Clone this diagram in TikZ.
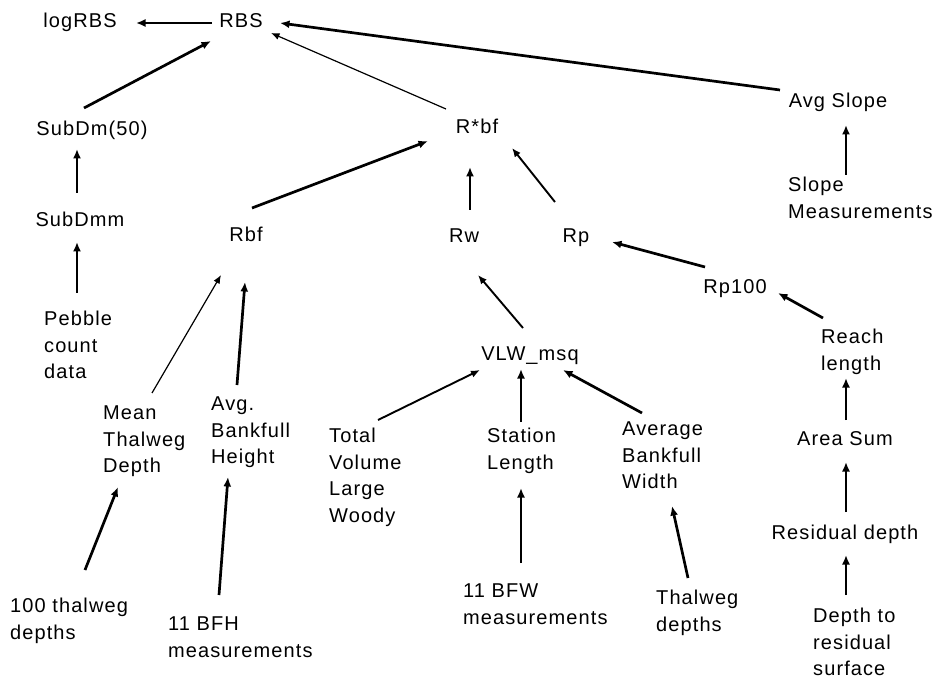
\documentclass[tikz,border=0pt]{standalone}
\usepackage{fontspec}
\setmainfont{Liberation Sans}[LetterSpace=5.5]
\usetikzlibrary{arrows.meta}
\begin{document}
\begin{tikzpicture}[x=1pt,y=-1pt,
  lbl/.style={inner sep=0pt, font=\fontsize{20}{26.5}\selectfont},
  one/.style={lbl, anchor=base},
  multi/.style={lbl, anchor=north west, align=left},
  thk/.style={line width=2.7pt, -{Latex[length=9.5pt,width=8pt]}},
  med/.style={line width=1.9pt, -{Latex[length=9pt,width=7.5pt]}},
  thn/.style={line width=1.2pt, -{Latex[length=8.5pt,width=7pt]}}]
\useasboundingbox (0,0) rectangle (938,679);
% single-line nodes
\node[one] (logrbs) at (80,28) {logRBS};
\node[one] (rbs) at (241,28) {RBS};
\node[one] (sub50) at (92,136) {SubDm(50)};
\node[one] (subdmm) at (80,227) {SubDmm};
\node[one] (rbf) at (246,242) {Rbf};
\node[one] (rstar) at (477,134) {R*bf};
\node[one] (rw) at (464,243) {Rw};
\node[one] (rp) at (576,243) {Rp};
\node[one] (avgslope) at (838,108) {Avg Slope};
\node[one] (rp100) at (735,294) {Rp100};
\node[one] (vlw) at (530,360) {VLW\_msq};
\node[one] (areasum) at (845,445) {Area Sum};
\node[one] (resid) at (845,539) {Residual depth};
% multi-line nodes
\node[multi] (slopem) at (788,177) {Slope\\Measurements};
\node[multi] (pebble) at (44,311) {Pebble\\count\\data};
\node[multi] (mean) at (103,406) {Mean\\Thalweg\\Depth};
\node[multi] (avgbfh) at (211,397) {Avg.\\Bankfull\\Height};
\node[multi] (tvlw) at (329,428) {Total\\Volume\\Large\\Woody};
\node[multi] (station) at (487,428) {Station\\Length};
\node[multi] (avgbfw) at (622,422) {Average\\Bankfull\\Width};
\node[multi] (reach) at (821,329) {Reach\\length};
\node[multi] (thal100) at (10,598) {100 thalweg\\depths};
\node[multi] (bfh11) at (168,617) {11 BFH\\measurements};
\node[multi] (bfw11) at (463,584) {11 BFW\\measurements};
\node[multi] (thaldepths) at (656,590) {Thalweg\\depths};
\node[multi] (depthres) at (813,608) {Depth to\\residual\\surface};
% connectors
\draw[thk] ([shift={(-29,-5)}]rbs.base) -- ([shift={(56,-5)}]logrbs.base);
\draw[thk] ([shift={(-8,-28)}]sub50.base) -- ([shift={(-30,13)}]rbs.base);
\draw[thn] ([shift={(-31,-25)}]rstar.base) -- ([shift={(30,5)}]rbs.base);
\draw[thk] ([shift={(-58,-18)}]avgslope.base) -- ([shift={(39,-5)}]rbs.base);
\draw[thk] ([shift={(58,-2)}]slopem.north west) -- ([shift={(8,17)}]avgslope.base);
\draw[thk] ([shift={(-3,-34)}]subdmm.base) -- ([shift={(-15,13)}]sub50.base);
\draw[thk] ([shift={(33,-18)}]pebble.north west) -- ([shift={(-3,15)}]subdmm.base);
\draw[thk] ([shift={(6,-34)}]rbf.base) -- ([shift={(-49,7)}]rstar.base);
\draw[thk] ([shift={(6,-33)}]rw.base) -- ([shift={(-7,33)}]rstar.base);
\draw[med] ([shift={(-21,-41)}]rp.base) -- ([shift={(35,14)}]rstar.base);
\draw[thk] ([shift={(-30,-27)}]rp100.base) -- ([shift={(36,-1)}]rp.base);
\draw[thk] ([shift={(2,-11)}]reach.north west) -- ([shift={(43,-1)}]rp100.base);
\draw[med] ([shift={(-7,-32)}]vlw.base) -- ([shift={(14,32)}]rw.base);
\draw[thk] ([shift={(1,-25)}]areasum.base) -- ([shift={(25,49)}]reach.north west);
\draw[thk] ([shift={(34,-6)}]station.north west) -- ([shift={(-9,9)}]vlw.base);
\draw[thk] ([shift={(20,-9)}]avgbfw.north west) -- ([shift={(33,10)}]vlw.base);
\draw[med] ([shift={(49,-8)}]tvlw.north west) -- ([shift={(-50,10)}]vlw.base);
\draw[thn] ([shift={(49,-13)}]mean.north west) -- ([shift={(-25,33)}]rbf.base);
\draw[thk] ([shift={(26,-12)}]avgbfh.north west) -- ([shift={(-1,40)}]rbf.base);
\draw[thk] ([shift={(75,-28)}]thal100.north west) -- ([shift={(15,81)}]mean.north west);
\draw[thk] ([shift={(51,-22)}]bfh11.north west) -- ([shift={(17,80)}]avgbfh.north west);
\draw[thk] ([shift={(58,-21)}]bfw11.north west) -- ([shift={(34,60)}]station.north west);
\draw[thk] ([shift={(32,-12)}]thaldepths.north west) -- ([shift={(50,84)}]avgbfw.north west);
\draw[thk] ([shift={(1,-27)}]resid.base) -- ([shift={(1,17)}]areasum.base);
\draw[thk] ([shift={(33,-13)}]depthres.north west) -- ([shift={(1,16)}]resid.base);
\end{tikzpicture}
\end{document}
